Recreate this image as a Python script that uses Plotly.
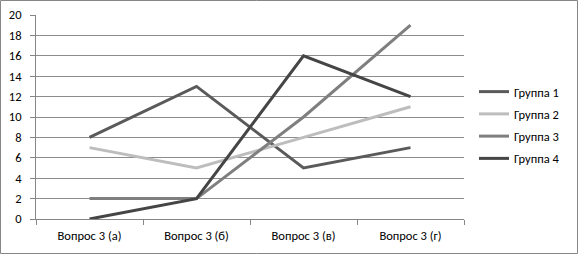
import plotly.graph_objects as go

categories = ["Вопрос 3 (а)", "Вопрос 3 (б)", "Вопрос 3 (в)", "Вопрос 3 (г)"]
group1 = [8, 13, 5, 7]
group2 = [7, 5, 8, 11]
group3 = [2, 2, 10, 19]
group4 = [0, 2, 16, 12]
series_names = ["Группа 1", "Группа 2", "Группа 3", "Группа 4"]
y_ticks = list(range(0, 21, 2))

colors = ["#5a5a5a", "#bdbdbd", "#7f7f7f", "#454545"]
W, H = 578, 254
L, R, T, B = 36, 114, 15, 35

fig = go.Figure()
for name, vals, col in zip(series_names, [group1, group2, group3, group4], colors):
    fig.add_trace(go.Scatter(x=categories, y=vals, mode="lines", name=name,
                             legendgroup=name,
                             line=dict(color=col, width=3)))

pw = W - L - R
ph = H - T - B
fig.update_layout(
    width=W, height=H,
    margin=dict(l=L, r=R, t=T, b=B, autoexpand=False),
    paper_bgcolor="white", plot_bgcolor="white",
    font=dict(family="Carlito, Open Sans, Liberation Sans, sans-serif", size=12.5, color="#000000"),
    showlegend=True,
    legend=dict(x=(474 - L) / pw, y=(219 - 125) / ph, xanchor="left", yanchor="middle",
                font=dict(size=12.5), tracegroupgap=3, bgcolor="rgba(0,0,0,0)"),
    xaxis=dict(type="category", range=[-0.5, 3.5], showgrid=False, automargin=False,
               showline=True, linecolor="#868686", linewidth=1,
               ticks="outside", tickson="boundaries", ticklen=5, tickcolor="#868686",
               ticklabelstandoff=5, tickfont=dict(size=12.5)),
    yaxis=dict(range=[0, 20], tickvals=y_ticks, showgrid=True, gridcolor="#8c8c8c",
               gridwidth=1, showline=True, linecolor="#868686", linewidth=1, automargin=False,
               ticks="outside", ticklen=5, tickcolor="#868686", zeroline=False,
               ticklabelstandoff=6, tickfont=dict(size=12.5)),
    shapes=[dict(type="rect", xref="paper", yref="paper",
                 x0=(-L + 0.5) / pw, x1=(W - L - 0.5) / pw,
                 y0=(-B + 0.5) / ph, y1=(H - B - 0.5) / ph,
                 line=dict(color="#868686", width=1), layer="below")],
)

fig.write_html("out.html", config={"displayModeBar": False},
               post_script="document.body.style.margin='0';")
